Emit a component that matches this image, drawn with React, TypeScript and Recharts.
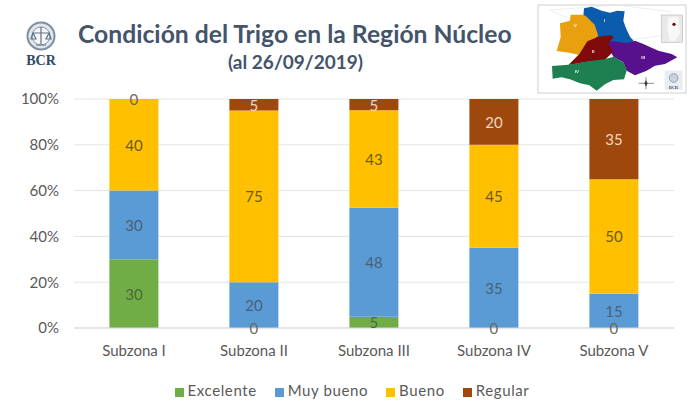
import React from "react";
import { BarChart, Bar, XAxis, YAxis, CartesianGrid, LabelList, Legend } from "recharts";

const categories = ["Subzona I", "Subzona II", "Subzona III", "Subzona IV", "Subzona V"];
const excelente = [30, 0, 5, 0, 0];
const muyBueno = [30, 20, 48, 35, 15];
const bueno = [40, 75, 43, 45, 50];
const regular = [0, 5, 5, 20, 35];
const yTicks = [0, 0.2, 0.4, 0.6, 0.8, 1];

const rows = categories.map((name, i) => ({
  name,
  excelente: excelente[i],
  muyBueno: muyBueno[i],
  bueno: bueno[i],
  regular: regular[i],
}));

const FONT = "Lato, 'Open Sans', sans-serif";
const TXT = "#595959";
const seriesDefs = [
  { key: "excelente", name: "Excelente", color: "#70AD47", label: "#4a6a3a" },
  { key: "muyBueno", name: "Muy bueno", color: "#5B9BD5", label: "#4a6078" },
  { key: "bueno", name: "Bueno", color: "#FFC000", label: "#6b5a20" },
  { key: "regular", name: "Regular", color: "#9E480E", label: "#f0d8c0" },
];

function makeLabel(color: string) {
  return (p: any) => (
    <text
      x={Number(p.x) + Number(p.width) / 2}
      y={Number(p.y) + Number(p.height) / 2}
      textAnchor="middle"
      dominantBaseline="central"
      fill={p.value === 0 ? "#6b6b5a" : color}
      fontSize={15}
      fontFamily={FONT}
    >
      {p.value}
    </text>
  );
}

function Decor() {
  return (
    <svg width={691} height={401} style={{ position: "absolute", left: 0, top: 0 }}>
      <g style={{ filter: "blur(0.5px)" }}>
        <circle cx={41} cy={36} r={13.5} fill="#dfe5ea" stroke="#7d8fa0" strokeWidth={2} />
        <circle cx={41} cy={36} r={9} fill="#f4f6f8" stroke="#8a9aa8" strokeWidth={1} />
        <path d="M41 27 V44 M33 33 H49 M33 33 L31 39 H36 Z M49 33 L46 39 H51 Z M36 45 H46" stroke="#5f7386" strokeWidth={1.2} fill="none" />
      </g>
      <text x={41} y={65} textAnchor="middle" fontFamily="'Liberation Serif', serif" fontWeight={700} fontSize={14} fill="#2f4a66">BCR</text>

      <rect x={538} y={5} width={148} height={88} fill="#ffffff" stroke="#cfcfcf" strokeWidth={1} />
      <g transform="translate(530,0) scale(0.3333)" style={{ filter: "blur(1.5px)" }}>
        <path d="M60 30 L130 25 L260 15 L420 35 L440 100 L300 120 L150 70 Z" fill="none" stroke="#e6e6e6" strokeWidth={2} />
        <polygon points="162,25 185,20 215,32 240,38 262,32 284,34 280,62 288,85 300,110 312,124 283,136 240,136 200,120 180,72 160,48" fill="#0B5CAD" />
        <polygon points="90,70 120,62 122,44 160,44 170,50 194,74 205,108 178,126 148,165 118,158 80,153 92,112" fill="#E8A00E" />
        <polygon points="232,126 252,124 290,130 315,122 340,132 385,152 425,162 442,172 405,192 375,197 350,212 315,226 290,212 280,187 250,170 240,150" fill="#58108C" />
        <polygon points="205,110 242,106 252,112 234,130 250,155 224,180 175,185 115,195 148,162 172,124" fill="#7E0A0A" />
        <polygon points="66,198 115,194 175,184 222,178 252,170 282,188 290,212 282,238 250,240 226,252 200,272 178,256 150,250 120,238 95,232 68,236" fill="#1E7F50" />
        <rect x={394} y={45} width={64} height={82} fill="#e9e9e9" stroke="#bdbdbd" strokeWidth={2} />
        <polygon points="415,52 445,52 450,100 435,122 420,122 412,85" fill="#f8f8f8" />
        <circle cx={432} cy={73} r={5} fill="#7a0a0a" />
        <rect x={404} y={212} width={54} height={58} fill="#e8edf1" />
        <circle cx={431} cy={234} r={13} fill="#c8d3dc" stroke="#6f8496" strokeWidth={2} />
        <text x={431} y={266} textAnchor="middle" fontSize={13} fontWeight={700} fill="#2f4a66" fontFamily="'Liberation Serif', serif">BCR</text>
        <path d="M348 232 V268 M326 250 H372" stroke="#555" strokeWidth={2} />
        <polygon points="348,240 353,250 348,260 343,250" fill="#444" />
        <text x={222} y={66} fontSize={13} fontWeight={700} fill="#fff" fontFamily={FONT}>I</text>
        <text x={131} y={80} fontSize={13} fontWeight={700} fill="#fff" fontFamily={FONT}>V</text>
        <text x={186} y={158} fontSize={13} fontWeight={700} fill="#fff" fontFamily={FONT}>II</text>
        <text x={334} y={176} fontSize={13} fontWeight={700} fill="#fff" fontFamily={FONT}>III</text>
        <text x={134} y={220} fontSize={13} fontWeight={700} fill="#fff" fontFamily={FONT}>IV</text>
      </g>
    </svg>
  );
}

export default function App() {
  return (
    <div style={{ position: "absolute", left: 0, top: 0, width: 691, height: 401, background: "#fff", overflow: "hidden" }}>
      <BarChart
        width={691}
        height={401}
        data={rows}
        stackOffset="expand"
        barCategoryGap="29.5%"
        margin={{ top: 99, right: 17, bottom: 11, left: 0 }}
        style={{ position: "absolute", left: 0, top: 0 }}
      >
        <CartesianGrid vertical={false} stroke="#e4e4e4" />
        <XAxis
          dataKey="name"
          height={44}
          axisLine={{ stroke: "#d9d9d9" }}
          tickLine={false}
          tick={{ fill: TXT, fontSize: 15, fontFamily: FONT }}
          tickMargin={11}
        />
        <YAxis
          width={74}
          domain={[0, 1]}
          ticks={yTicks}
          axisLine={false}
          tickLine={false}
          tick={{ fill: TXT, fontSize: 15, fontFamily: FONT }}
          tickMargin={9}
          tickFormatter={(v: number) => `${Math.round(v * 100)}%`}
        />
        <Legend
          verticalAlign="bottom"
          iconType="square"
          iconSize={9}
          itemSorter={null}
          wrapperStyle={{ fontFamily: FONT, fontSize: 15, left: 0, width: 722, bottom: 2 }}
          formatter={(value: string) => <span style={{ color: TXT, letterSpacing: 0.6, marginRight: 8 }}>{value}</span>}
        />
        {seriesDefs.map((s) => (
          <Bar key={s.key} dataKey={s.key} name={s.name} stackId="a" fill={s.color} minPointSize={0.01} isAnimationActive={false}>
            <LabelList dataKey={s.key} content={makeLabel(s.label)} />
          </Bar>
        ))}
      </BarChart>
      <Decor />
      <div style={{ position: "absolute", left: 78, top: 19, fontFamily: FONT, fontWeight: 700, fontSize: 24.7, color: "#44546A", whiteSpace: "nowrap" }}>
        Condición del Trigo en la Región Núcleo
      </div>
      <div style={{ position: "absolute", left: 228, top: 50, fontFamily: FONT, fontWeight: 700, fontSize: 19, color: "#44546A", whiteSpace: "nowrap" }}>
        (al 26/09/2019)
      </div>
    </div>
  );
}
